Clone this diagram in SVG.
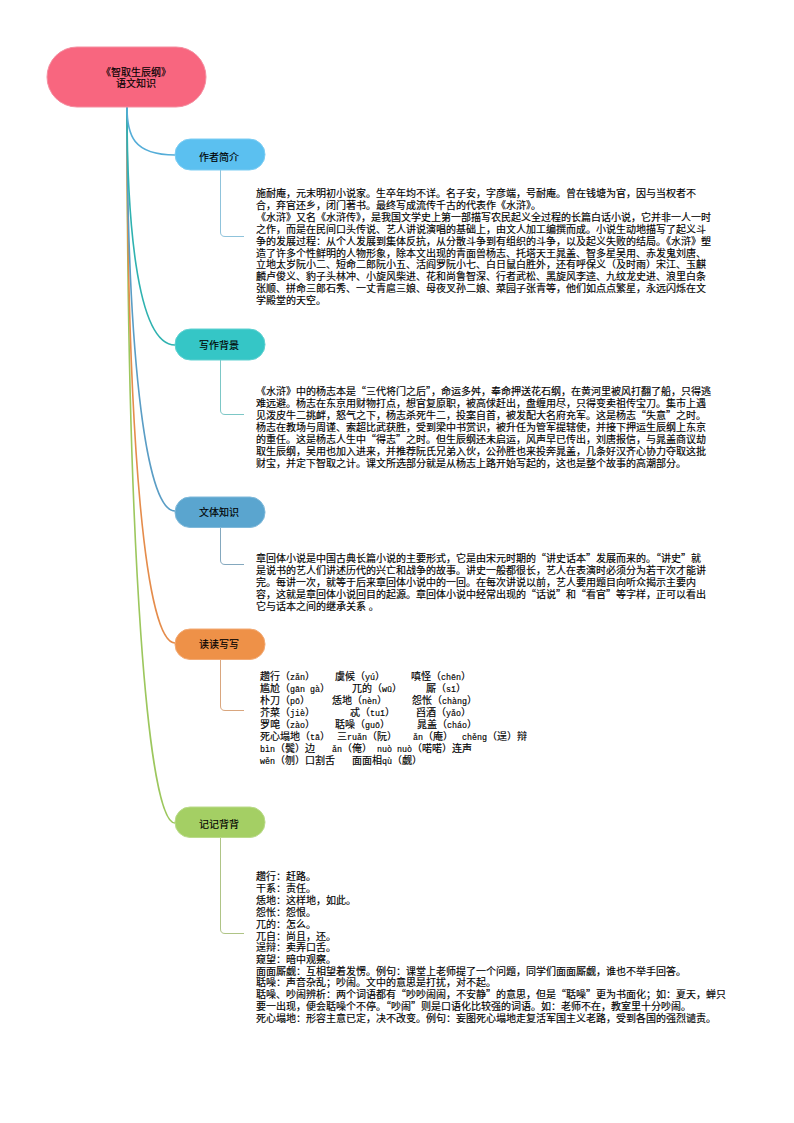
<svg xmlns="http://www.w3.org/2000/svg" width="794" height="1123" viewBox="0 0 794 1123">
<style>
text{font-family:"Liberation Sans","Noto Sans CJK SC",sans-serif;font-size:10px;fill:#000;stroke:#000;stroke-width:.15}
.c{text-anchor:middle}
.l{font-family:"Liberation Mono","Noto Sans CJK SC",monospace;font-size:8.33px}
.q{font-family:"Noto Sans CJK SC",sans-serif}
.m{fill:none;stroke-width:1.6}
.s{fill:none;stroke-width:1}
</style>
<rect width="794" height="1123" fill="#fff"/>
<g id="connectors">
<path class="m" stroke="#9CC75D" d="M127 107C127 560 148 823 175 823"/>
<path class="m" stroke="#E58C4B" d="M127 107C127 450 146 643 175 643"/>
<path class="m" stroke="#5A9DC5" d="M127 107C127 340 144 511 175 511"/>
<path class="m" stroke="#2FB2B0" d="M127 107C127 210 135 345 175 345"/>
<path class="m" stroke="#54ADD8" d="M127 107C127 135 133 155 175 155"/>
<path class="s" stroke="#8FC3DB" d="M220.500 170V232Q220.500 236.500 225 236.500H244"/>
<path class="s" stroke="#7CC7C6" d="M220.500 360V410Q220.500 414.500 225 414.500H244"/>
<path class="s" stroke="#84A8BE" d="M220.500 527V560Q220.500 564.500 225 564.500H244"/>
<path class="s" stroke="#D9A67E" d="M220.500 659V706Q220.500 710.500 225 710.500H244"/>
<path class="s" stroke="#AFC486" d="M220.500 837V929Q220.500 933.500 225 933.500H244"/>
</g>
<g id="root"><rect x="47" y="47" width="159" height="60" rx="30" fill="#F8667F" stroke="#F48EA0"/><text class="c" x="136" y="75.500">《智取生辰纲》</text><text class="c" x="136" y="87">语文知识</text></g>
<g id="node-author"><rect x="175" y="139" width="90" height="31" rx="15.500" fill="#5BC0F0" stroke="#7CCDF3"/><text class="c" x="219" y="161">作者简介</text></g>
<g id="node-background"><rect x="175" y="329" width="90" height="31" rx="15.500" fill="#35C6C6" stroke="#60D1D1"/><text class="c" x="219" y="349">写作背景</text></g>
<g id="node-genre"><rect x="175" y="497" width="90" height="30.500" rx="15" fill="#5AA5CF" stroke="#7FB9DA"/><text class="c" x="219" y="516">文体知识</text></g>
<g id="node-reading"><rect x="175" y="629" width="90" height="30.500" rx="15" fill="#EE9148" stroke="#F2AA75"/><text class="c" x="219" y="648">读读写写</text></g>
<g id="node-notes"><rect x="175" y="807" width="90" height="30.500" rx="15" fill="#A4CF64" stroke="#BADB8A"/><text class="c" x="219" y="828">记记背背</text></g>
<g id="text-author">
<text x="256" y="197">施耐庵，元末明初小说家。生卒年均不详。名子安，字彦端，号耐庵。曾在钱塘为官，因与当权者不</text>
<text x="256" y="209">合，弃官还乡，闭门著书。最终写成流传千古的代表作《水浒》。</text>
<text x="256" y="221">《水浒》又名《水浒传》，是我国文学史上第一部描写农民起义全过程的长篇白话小说，它并非一人一时</text>
<text x="256" y="232.500">之作，而是在民间口头传说、艺人讲说演唱的基础上，由文人加工编撰而成。小说生动地描写了起义斗</text>
<text x="256" y="244.500">争的发展过程：从个人发展到集体反抗，从分散斗争到有组织的斗争，以及起义失败的结局。《水浒》塑</text>
<text x="256" y="256.500">造了许多个性鲜明的人物形象，除本文出现的青面兽杨志、托塔天王晁盖、智多星吴用、赤发鬼刘唐、</text>
<text x="256" y="268">立地太岁阮小二、短命二郎阮小五、活阎罗阮小七、白日鼠白胜外，还有呼保义（及时雨）宋江、玉麒</text>
<text x="256" y="280">麟卢俊义、豹子头林冲、小旋风柴进、花和尚鲁智深、行者武松、黑旋风李逵、九纹龙史进、浪里白条</text>
<text x="256" y="292">张顺、拼命三郎石秀、一丈青扈三娘、母夜叉孙二娘、菜园子张青等，他们如点点繁星，永远闪烁在文</text>
<text x="256" y="303.500">学殿堂的天空。</text>
</g>
<g id="text-background">
<text x="256" y="395">《水浒》中的杨志本是<tspan class="q">“</tspan>三代将门之后<tspan class="q">”</tspan>，命运多舛，奉命押送花石纲，在黄河里被风打翻了船，只得逃</text>
<text x="256" y="407">难远避。杨志在东京用财物打点，想官复原职，被高俅赶出，盘缠用尽，只得变卖祖传宝刀。集市上遇</text>
<text x="256" y="419">见泼皮牛二挑衅，怒气之下，杨志杀死牛二，投案自首，被发配大名府充军。这是杨志<tspan class="q">“</tspan>失意<tspan class="q">”</tspan>之时。</text>
<text x="256" y="431">杨志在教场与周谨、索超比武获胜，受到梁中书赏识，被升任为管军提辖使，并接下押运生辰纲上东京</text>
<text x="256" y="443">的重任。这是杨志人生中<tspan class="q">“</tspan>得志<tspan class="q">”</tspan>之时。但生辰纲还未启运，风声早已传出，刘唐报信，与晁盖商议劫</text>
<text x="256" y="455">取生辰纲，吴用也加入进来，并推荐阮氏兄弟入伙，公孙胜也来投奔晁盖，几条好汉齐心协力夺取这批</text>
<text x="256" y="467">财宝，并定下智取之计。课文所选部分就是从杨志上路开始写起的，这也是整个故事的高潮部分。</text>
</g>
<g id="text-genre">
<text x="256" y="562">章回体小说是中国古典长篇小说的主要形式，它是由宋元时期的<tspan class="q">“</tspan>讲史话本<tspan class="q">”</tspan>发展而来的。<tspan class="q">“</tspan>讲史<tspan class="q">”</tspan>就</text>
<text x="256" y="574">是说书的艺人们讲述历代的兴亡和战争的故事。讲史一般都很长，艺人在表演时必须分为若干次才能讲</text>
<text x="256" y="586">完。每讲一次，就等于后来章回体小说中的一回。在每次讲说以前，艺人要用题目向听众揭示主要内</text>
<text x="256" y="598">容，这就是章回体小说回目的起源。章回体小说中经常出现的<tspan class="q">“</tspan>话说<tspan class="q">”</tspan>和<tspan class="q">“</tspan>看官<tspan class="q">”</tspan>等字样，正可以看出</text>
<text x="256" y="609.500">它与话本之间的继承关系 。</text>
</g>
<g id="text-reading">
<text x="260" y="680">趱行（<tspan class="l">zǎn</tspan>）</text><text x="335" y="680">虞候（<tspan class="l">yú</tspan>）</text><text x="411" y="680">嗔怪（<tspan class="l">chēn</tspan>）</text>
<text x="260" y="692">尴尬（<tspan class="l">gān gà</tspan>）</text><text x="352" y="692">兀的（<tspan class="l">wū</tspan>）</text><text x="426" y="692">厮（<tspan class="l">sī</tspan>）</text>
<text x="260" y="704">朴刀（<tspan class="l">pō</tspan>）</text><text x="332" y="704">恁地（<tspan class="l">nèn</tspan>）</text><text x="412" y="704">怨怅（<tspan class="l">chàng</tspan>）</text>
<text x="260" y="716">芥菜（<tspan class="l">jiè</tspan>）</text><text x="350" y="716">忒（<tspan class="l">tuī</tspan>）</text><text x="416" y="716">舀酒（<tspan class="l">yǎo</tspan>）</text>
<text x="260" y="728">罗唣（<tspan class="l">zào</tspan>）</text><text x="335" y="728">聒噪（<tspan class="l">guō</tspan>）</text><text x="417" y="728">晁盖（<tspan class="l">cháo</tspan>）</text>
<text x="260" y="740">死心塌地（<tspan class="l">tā</tspan>）</text><text x="337" y="740">三<tspan class="l">ruǎn</tspan>（阮）</text><text x="413" y="740"><tspan class="l">ǎn</tspan>（庵）</text><text x="462" y="740"><tspan class="l">chěng</tspan>（逞）辩</text>
<text x="260" y="752"><tspan class="l">bìn</tspan>（鬓）边</text><text x="332" y="752"><tspan class="l">ǎn</tspan>（俺）</text><text x="377" y="752"><tspan class="l">nuò nuò</tspan>（喏喏）连声</text>
<text x="260" y="764"><tspan class="l">wěn</tspan>（刎）口割舌</text><text x="352" y="764">面面相<tspan class="l">qù</tspan>（觑）</text>
</g>
<g id="text-notes">
<text x="256" y="880">趱行：赶路。</text>
<text x="256" y="892">干系：责任。</text>
<text x="256" y="904">恁地：这样地，如此。</text>
<text x="256" y="916">怨怅：怨恨。</text>
<text x="256" y="927.500">兀的：怎么。</text>
<text x="256" y="939.500">兀自：尚且，还。</text>
<text x="256" y="951">逞辩：卖弄口舌。</text>
<text x="256" y="962.500">窥望：暗中观察。</text>
<text x="256" y="974.500">面面厮觑：互相望着发愣。例句：课堂上老师提了一个问题，同学们面面厮觑，谁也不举手回答。</text>
<text x="256" y="986">聒噪：声音杂乱；吵闹。文中的意思是打扰，对不起。</text>
<text x="256" y="998">聒噪、吵闹辨析：两个词语都有<tspan class="q">“</tspan>吵吵闹闹，不安静<tspan class="q">”</tspan>的意思，但是<tspan class="q">“</tspan>聒噪<tspan class="q">”</tspan>更为书面化；如：夏天，蝉只</text>
<text x="256" y="1010">要一出现，便会聒噪个不停。<tspan class="q">“</tspan>吵闹<tspan class="q">”</tspan>则是口语化比较强的词语。如：老师不在，教室里十分吵闹。</text>
<text x="256" y="1022">死心塌地：形容主意已定，决不改变。例句：妄图死心塌地走复活军国主义老路，受到各国的强烈谴责。</text>
</g>
</svg>
